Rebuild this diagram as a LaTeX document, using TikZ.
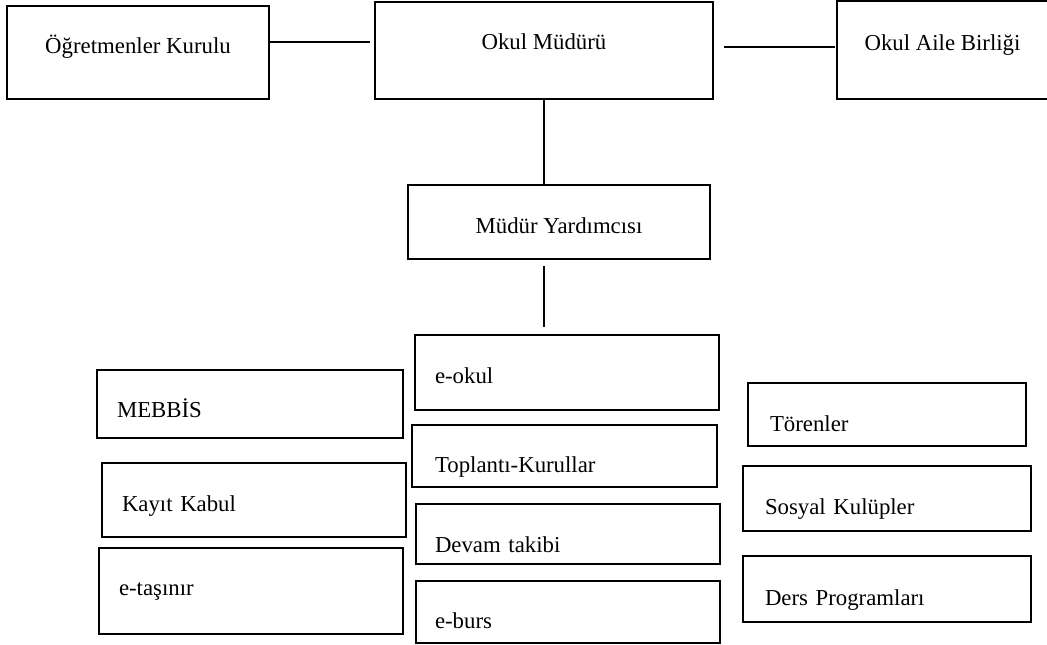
\documentclass[tikz,border=0pt]{standalone}
\usepackage{fontspec}
\setmainfont{Liberation Serif}
\usepackage{tikz}
\usetikzlibrary{%
	calc,%
	positioning%
}
\tikzstyle{line}=[draw, line width=1.3pt]
\tikzstyle{kutu}=[draw, line width=1.3pt, outer sep=0pt, inner ysep=0pt, anchor=north west, font=\fontsize{22.8}{27}\selectfont]
\tikzstyle{ortala}=[kutu, inner xsep=0pt, align=center]
\tikzstyle{sola}=[kutu, inner xsep=20pt, align=left]

\begin{document}
\begin{tikzpicture}[x=1pt, y=-1pt]
		\useasboundingbox (0,0) rectangle (1047,645);
		
		% ust sira
		\node[ortala, minimum width=262pt, text height=47pt, text depth=46pt] (ogretmen) at (7,6) {Öğretmenler Kurulu};
		\node[ortala, minimum width=338pt, text height=47pt, text depth=50pt] (mudur) at (375,2) {Okul Müdürü};
		\node[ortala, minimum width=211pt, text height=49pt, text depth=49pt] (aile) at (837,1) {Okul Aile Birliği};
		\node[ortala, minimum width=302pt, text height=48pt, text depth=26pt] (yard) at (408,185) {Müdür Yardımcısı};
		
		% sol sutun
		\node[sola, text width=266pt, text height=47pt, text depth=21pt] (mebbis) at (97,370) {MEBBİS};
		\node[sola, text width=264pt, text height=48pt, text depth=26pt] (kayit) at (102,463) {Kayıt Kabul};
		\node[sola, text width=264pt, text height=47pt, text depth=39pt] (tasinir) at (99,548) {e-taşınır};
		
		% orta sutun
		\node[sola, text width=264pt, text height=48pt, text depth=27pt] (eokul) at (415,335) {e-okul};
		\node[sola, inner xsep=23pt, text width=259pt, text height=47pt, text depth=15pt] (toplanti) at (412,425) {Toplantı-Kurullar};
		\node[sola, inner xsep=19pt, text width=266pt, text height=48pt, text depth=12pt] (devam) at (416,504) {Devam takibi};
		\node[sola, inner xsep=19pt, text width=266pt, text height=47pt, text depth=15pt] (eburs) at (416,581) {e-burs};
		
		% sag sutun
		\node[sola, inner xsep=22pt, text width=234pt, text height=48pt, text depth=15pt] (toren) at (748,383) {Törenler};
		\node[sola, inner xsep=22pt, text width=244pt, text height=48pt, text depth=17pt] (sosyal) at (743,466) {Sosyal Kulüpler};
		\node[sola, inner xsep=22pt, text width=244pt, text height=49pt, text depth=17pt] (ders) at (743,556) {Ders Programları};
		
		% baglantilar
		\draw[line, shorten >=5pt] (ogretmen.east |- 0,42) -- (mudur.west |- 0,42);
		\draw[line, shorten <=11pt, shorten >=2pt] (mudur.east |- 0,47) -- (aile.west |- 0,47);
		\draw[line] (mudur.south) -- (yard.north -| mudur.south);
		\draw[line, shorten <=7pt, shorten >=8pt] (yard.south -| mudur.south) -- (eokul.north -| mudur.south);
	\end{tikzpicture}
\end{document}
